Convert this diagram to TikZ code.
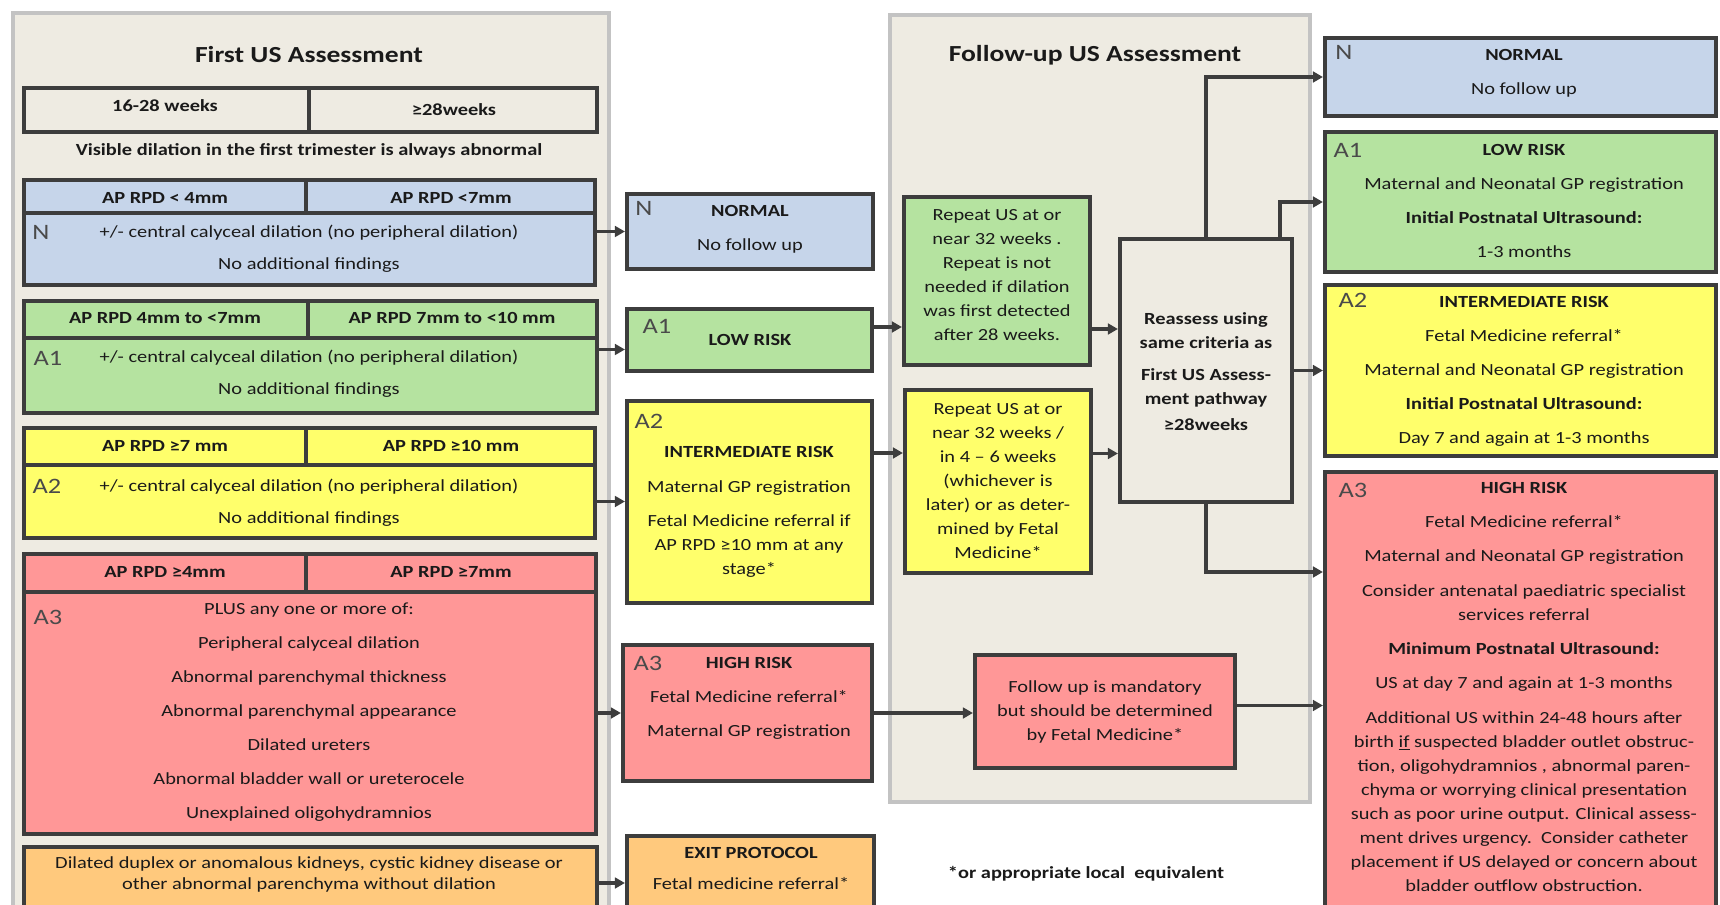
\documentclass[tikz,border=0pt]{standalone}
\usepackage{fontspec}
\setmainfont{Carlito}[FakeStretch=1.2]
\usetikzlibrary{arrows.meta,fit}
\definecolor{panelfill}{HTML}{EEEBE2}
\definecolor{panelline}{HTML}{C3C3C3}
\definecolor{boxline}{HTML}{3D3D3D}
\definecolor{cblue}{HTML}{C6D5EA}
\definecolor{cgreen}{HTML}{B5E3A0}
\definecolor{cyellow}{HTML}{FFFF6B}
\definecolor{cred}{HTML}{FF9797}
\definecolor{corange}{HTML}{FFC97D}
\definecolor{tcol}{HTML}{1A1A1A}
\definecolor{lcol}{HTML}{4A4A4A}
\definecolor{arrcol}{HTML}{3D3D3D}
\newcommand\fsz{\fontsize{12.75pt}{18pt}\selectfont}
\newcommand\fttl{\fontsize{17.25pt}{20pt}\selectfont\bfseries}
\newcommand\flbl{\fontsize{16.5pt}{18pt}\selectfont}
\tikzset{
 panel/.style={draw=panelline, fill=panelfill, line width=3.5pt, inner sep=0},
 box/.style={draw=boxline, line width=3.1pt, inner sep=0},
 txt/.style={font=\fsz, text=tcol, align=center, inner sep=0},
 btxt/.style={txt, font=\fsz\bfseries},
 ttl/.style={font=\fttl, text=tcol, inner sep=0},
 lbl/.style={font=\flbl, text=lcol, inner sep=0},
 arr/.style={draw=arrcol, line width=2.4pt, -{Triangle[length=7.5pt,width=8pt]}},
}
\begin{document}
\begin{tikzpicture}[x=0.75pt,y=-0.75pt]
\useasboundingbox (0,0) rectangle (1720,905);
\fill[white] (0,0) rectangle (1720,905);
\clip (0,0) rectangle (1720,905);
% panels
\node[panel, fit={(13,13) (609,930)}] (p1) {};
\node[panel, fit={(890,15) (1310,802)}] (p2) {};
\node[ttl] (t1) at (309,55) {First US Assessment};
\node[ttl] (t2) at (1095,55) {Follow-up US Assessment};
% weeks
\node[box, fill=panelfill, fit={(24,88) (309,132)}] (w1) {};
\node[box, fill=panelfill, fit={(309,88) (597,132)}] (w2) {};
\node[btxt] (w1t) at (165,106) {16-28 weeks};
\node[btxt] (w2t) at (454,110) {≥28weeks};
\node[btxt] (vis) at (309,151) {Visible dilation in the first trimester is always abnormal};
% N block
\node[box, fill=cblue, fit={(24,213) (595,285)}] (lNb) {};
\node[box, fill=cblue, fit={(24,180) (306,213)}] (lNh1) {};
\node[box, fill=cblue, fit={(306,180) (595,213)}] (lNh2) {};
\node[btxt] (lNh1t) at (165,198) {AP RPD < 4mm};
\node[btxt] (lNh2t) at (451,198) {AP RPD <7mm};
\node[lbl] (lNl) at (41,232) {N};
\node[txt] (lNt) at (309,249) {+/- central calyceal dilation (no peripheral dilation)\\[6pt]No additional findings};
% A1 block
\node[box, fill=cgreen, fit={(24,338) (597,413)}] (lA1b) {};
\node[box, fill=cgreen, fit={(24,301) (308,338)}] (lA1h1) {};
\node[box, fill=cgreen, fit={(308,301) (597,338)}] (lA1h2) {};
\node[btxt] (lA1h1t) at (165,318) {AP RPD 4mm to <7mm};
\node[btxt] (lA1h2t) at (452,318) {AP RPD 7mm to <10 mm};
\node[lbl] (lA1l) at (48,358) {A1};
\node[txt] (lA1t) at (309,374) {+/- central calyceal dilation (no peripheral dilation)\\[6pt]No additional findings};
% A2 block
\node[box, fill=cyellow, fit={(24,465) (595,538)}] (lA2b) {};
\node[box, fill=cyellow, fit={(24,428) (306,465)}] (lA2h1) {};
\node[box, fill=cyellow, fit={(306,428) (595,465)}] (lA2h2) {};
\node[btxt] (lA2h1t) at (165,446) {AP RPD ≥7 mm};
\node[btxt] (lA2h2t) at (451,446) {AP RPD ≥10 mm};
\node[lbl] (lA2l) at (47,486) {A2};
\node[txt] (lA2t) at (309,503) {+/- central calyceal dilation (no peripheral dilation)\\[6pt]No additional findings};
% A3 block
\node[box, fill=cred, fit={(24,592) (596,834)}] (lA3b) {};
\node[box, fill=cred, fit={(24,554) (306,592)}] (lA3h1) {};
\node[box, fill=cred, fit={(306,554) (596,592)}] (lA3h2) {};
\node[btxt] (lA3h1t) at (165,572) {AP RPD ≥4mm};
\node[btxt] (lA3h2t) at (451,572) {AP RPD ≥7mm};
\node[lbl] (lA3l) at (48,617) {A3};
\node[txt] (lA3t) at (309,712) {PLUS any one or more of:\\[7.5pt]Peripheral calyceal dilation\\[7.5pt]Abnormal parenchymal thickness\\[7.5pt]Abnormal parenchymal appearance\\[7.5pt]Dilated ureters\\[7.5pt]Abnormal bladder wall or ureterocele\\[7.5pt]Unexplained oligohydramnios};
% Exit block
\node[box, fill=corange, fit={(24,847) (597,930)}] (lEx) {};
\node[txt] (lExt) at (309,874.5) {Dilated duplex or anomalous kidneys, cystic kidney disease or\\[-2.25pt]other abnormal parenchyma without dilation};
% middle column
\node[box, fill=cblue, fit={(627,194) (873,269)}] (mN) {};
\node[lbl] (mNl) at (644,208) {N};
\node[txt] (mNt) at (750,229) {\textbf{NORMAL}\\[7.5pt]No follow up};
\node[box, fill=cgreen, fit={(627,309) (872,371)}] (mA1) {};
\node[lbl] (mA1l) at (657,326) {A1};
\node[btxt] (mA1t) at (750,340) {LOW RISK};
\node[box, fill=cyellow, fit={(627,401) (872,603)}] (mA2) {};
\node[lbl] (mA2l) at (649,421) {A2};
\node[txt] (mA2t) at (749,511.5) {\textbf{INTERMEDIATE RISK}\\[8.25pt]Maternal GP registration\\[7.5pt]Fetal Medicine referral if\\AP RPD ≥10 mm at any\\stage*};
\node[box, fill=cred, fit={(623,645) (872,781)}] (mA3) {};
\node[lbl] (mA3l) at (648,663) {A3};
\node[txt] (mA3t) at (749,698) {\textbf{HIGH RISK}\\[7.5pt]Fetal Medicine referral*\\[7.5pt]Maternal GP registration};
\node[box, fill=corange, fit={(627,836) (874,930)}] (mEx) {};
\node[txt] (mExt) at (751,868.5) {\textbf{EXIT PROTOCOL}\\[5.25pt]Fetal medicine referral*};
\node[btxt] (foot) at (1086,874) {*or appropriate local\ \ equivalent};
% follow-up column
\node[box, fill=cgreen, fit={(904,197) (1090,365)}] (fG) {};
\node[txt] (fGt) at (997,275.5) {Repeat US at or\\near 32 weeks .\\Repeat is not\\needed if dilation\\was first detected\\after 28 weeks.};
\node[box, fill=cyellow, fit={(905,390) (1091,573)}] (fY) {};
\node[txt] (fYt) at (998,481.5) {Repeat US at or\\near 32 weeks /\\in 4 -- 6 weeks\\(whichever is\\later) or as deter-\\mined by Fetal\\Medicine*};
\node[box, fill=panelfill, fit={(1120,239) (1292,502)}] (re) {};
\node[btxt] (ret) at (1206,372) {Reassess using\\same criteria as\\[6pt]First US Assess-\\ment pathway\\[1.5pt]≥28weeks};
\node[box, fill=cred, fit={(975,655) (1235,768)}] (fR) {};
\node[txt] (fRt) at (1105,712) {Follow up is mandatory\\but should be determined\\by Fetal Medicine*};
% right column
\node[box, fill=cblue, fit={(1325,38) (1716,116)}] (rN) {};
\node[lbl] (rNl) at (1344,52) {N};
\node[txt] (rNt) at (1524,73) {\textbf{NORMAL}\\[7.5pt]No follow up};
\node[box, fill=cgreen, fit={(1325,132) (1716,272)}] (rA1) {};
\node[lbl] (rA1l) at (1348,150) {A1};
\node[txt] (rA1t) at (1524,201) {\textbf{LOW RISK}\\[7.5pt]Maternal and Neonatal GP registration\\[7.5pt]\textbf{Initial Postnatal Ultrasound:}\\[7.5pt]1-3 months};
\node[box, fill=cyellow, fit={(1325,285) (1716,456)}] (rA2) {};
\node[lbl] (rA2l) at (1353,300) {A2};
\node[txt] (rA2t) at (1524,371.5) {\textbf{INTERMEDIATE RISK}\\[7.5pt]Fetal Medicine referral*\\[7.5pt]Maternal and Neonatal GP registration\\[7.5pt]\textbf{Initial Postnatal Ultrasound:}\\[7.5pt]Day 7 and again at 1-3 months};
\node[box, fill=cred, fit={(1325,472) (1716,930)}] (rA3) {};
\node[lbl] (rA3l) at (1353,490) {A3};
\node[txt] (rA3t) at (1524,687) {\textbf{HIGH RISK}\\[7.5pt]Fetal Medicine referral*\\[7.5pt]Maternal and Neonatal GP registration\\[8pt]Consider antenatal paediatric specialist\\services referral\\[7.5pt]\textbf{Minimum Postnatal Ultrasound:}\\[7.5pt]US at day 7 and again at 1-3 months\\[8pt]Additional US within 24-48 hours after\\birth \underline{if} suspected bladder outlet obstruc-\\tion, oligohydramnios , abnormal paren-\\chyma or worrying clinical presentation\\such as poor urine output. Clinical assess-\\ment drives urgency.\ \ Consider catheter\\placement if US delayed or concern about\\bladder outflow obstruction.};
% connectors
\draw[arr] (lNb.east |- mN.west) -- (mN.west);
\draw[arr] ([yshift=19.5pt]lA1b.east) coordinate (c1) -- (c1 -| mA1.west);
\draw[arr] (lA2b.east) -- (lA2b.east -| mA2.west);
\draw[arr] (lA3b.east) -- (lA3b.east -| mA3.west);
\draw[arr] (lEx.east |- mEx.west) -- (mEx.west);
\draw[arr] ([yshift=9.75pt]mA1.east) coordinate (c2) -- (c2 -| fG.west);
\draw[arr] ([yshift=36.75pt]mA2.east) coordinate (c3) -- (c3 -| fY.west);
\draw[arr] ([yshift=-36pt]fG.east) coordinate (c4) -- (c4 -| re.west);
\draw[arr] ([yshift=21pt]fY.east) coordinate (c5) -- (c5 -| re.west);
\draw[arr] (mA3.east) -- (mA3.east -| fR.west);
\draw[arr] ([yshift=4.5pt]fR.east) coordinate (c6) -- (c6 -| rA3.west);
\draw[arr] (re.north) |- (rN.west);
\draw[arr] ([xshift=-10.5pt]re.north east) |- (rA1.west);
\draw[arr] (re.east |- rA2.west) -- (rA2.west);
\draw[arr] (re.south) |- ([yshift=96.75pt]rA3.west);
\end{tikzpicture}
\end{document}
